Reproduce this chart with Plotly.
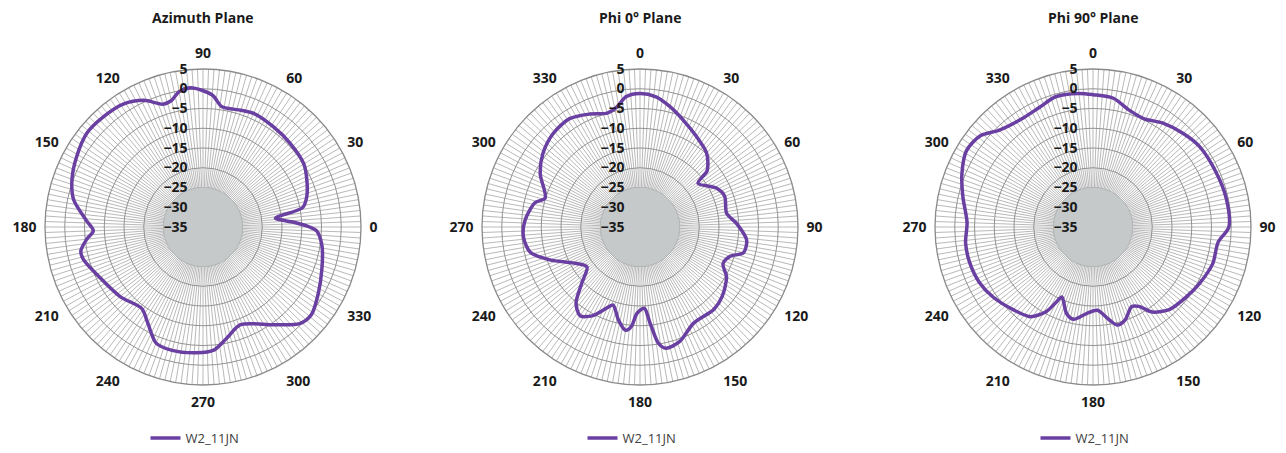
import plotly.graph_objects as go

# Azimuth plane (0 at right, counterclockwise)
az_theta = [0, 3, 7, 11, 16, 24, 32, 44, 55, 66, 72, 81, 86, 95, 100, 104, 108, 115,
            123, 132, 141, 151, 160, 168, 177, 182, 186, 191, 195, 206, 220, 233, 240,
            248, 256, 267, 275, 282, 291, 306, 315, 321, 330, 340, 351, 358, 360]
az_gain = [-8.0, -12.0, -16.5, -9.3, -7.7, -6.2, -4.9, -4.4, -4.0, -3.5, -3.9, -4.2, -1.5,
           0.4, -0.2, -2.0, -2.3, 0.4, 2.1, 2.6, 2.8, 1.6, 0.3, -1.5, -5.5, -7.2, -5.4,
           -3.5, -3.6, -5.9, -7.6, -9.2, -7.0, -3.3, -2.8, -3.1, -3.7, -6.2, -8.5, -4.4,
           -0.4, 0.3, -1.3, -3.0, -4.5, -6.2, -8.0]

# Phi 0 plane (0 at top, clockwise)
p0_theta = [0, 7, 14, 22, 32, 42, 50, 53, 63, 70, 81, 88, 97, 104, 108, 114, 120, 130,
            138, 151, 161, 168, 171, 174, 177, 182, 185, 188, 193, 199, 202, 208, 214,
            220, 226, 233, 240, 250, 257, 265, 273, 283, 287, 298, 307, 317, 327, 336,
            344, 349, 354, 360]
p0_gain = [-1.2, -1.8, -3.6, -5.8, -8.0, -9.8, -12.8, -16.6, -13.3, -12.2, -12.8, -10.5,
           -7.8, -8.0, -11.0, -12.0, -9.7, -7.8, -7.0, -7.1, -4.3, -3.6, -5.2, -10.5,
           -14.4, -13.1, -9.7, -8.6, -10.8, -14.1, -13.0, -9.6, -7.9, -9.8, -14.5, -18.2,
           -16.5, -10.7, -6.5, -5.4, -5.8, -7.7, -9.9, -6.4, -4.2, -2.7, -2.3, -3.7, -5.0,
           -4.1, -1.8, -1.2]

# Phi 90 plane (0 at top, clockwise)
p90_theta = [0, 9, 17, 25, 34, 44, 53, 66, 78, 90, 97, 107, 118, 127, 137, 145, 150, 154,
             161, 166, 170, 177, 184, 192, 197, 204, 206, 209, 215, 224, 235, 244, 254,
             263, 272, 283, 292, 301, 309, 316, 326, 336, 344, 354, 360]
p90_gain = [-1.5, -2.0, -4.0, -4.7, -3.3, -2.1, -1.2, -0.9, -0.5, -0.6, -3.1, -3.3, -4.5,
            -5.5, -6.5, -8.7, -11.8, -12.6, -10.1, -9.4, -11.1, -13.9, -13.1, -11.1,
            -12.1, -15.6, -13.9, -10.5, -7.3, -5.9, -4.1, -3.0, -2.5, -2.5, -3.1, -1.2,
            0.8, 2.4, 1.7, -0.9, -2.2, -1.8, -0.7, -1.0, -1.5]

titles = ["Azimuth Plane", "Phi 0\u00b0 Plane", "Phi 90\u00b0 Plane"]
series_name = "W2_11JN"
r_ticks = [-35, -30, -25, -20, -15, -10, -5, 0, 5]
r_range = [-35, 5]
core_level = -25   # grey hub in the middle of each chart
spoke_vals = list(range(0, 360, 2))
spoke_text = [str(v) if v % 30 == 0 else "" for v in spoke_vals]

line_color = "#6a3fa2"
font_family = "Open Sans"

fig = go.Figure()

data = [(az_theta, az_gain), (p0_theta, p0_gain), (p90_theta, p90_gain)]
for i, (th, g) in enumerate(data):
    sub = "polar" if i == 0 else f"polar{i + 1}"
    leg = "legend" if i == 0 else f"legend{i + 1}"
    # grey hub
    fig.add_trace(go.Scatterpolar(
        r=[core_level] * len(spoke_vals), theta=spoke_vals, mode="lines",
        fill="toself", fillcolor="#c6c9c9", line=dict(width=0.8, color="#b8bcbc"),
        hoverinfo="skip", showlegend=False, subplot=sub
    ))
    fig.add_trace(go.Scatterpolar(
        r=g, theta=th, mode="lines", name=series_name,
        line=dict(color=line_color, width=3.5, shape="spline", smoothing=0.8),
        subplot=sub, legend=leg
    ))

# polar domains (pixel centres 203 / 640 / 1093, radius 158)
W, H = 1286, 453
centres = [203, 640, 1093]
rad = 158
cy = 226

layout = dict(
    width=W, height=H,
    margin=dict(l=0, r=0, t=0, b=0),
    paper_bgcolor="white",
    font=dict(family=font_family, color="black"),
    showlegend=True,
)

for i, cx in enumerate(centres):
    key = "polar" if i == 0 else f"polar{i + 1}"
    if i == 0:
        rotation, direction = 0, "counterclockwise"
    else:
        rotation, direction = 90, "clockwise"
    layout[key] = dict(
        domain=dict(x=[(cx - rad) / W, (cx + rad) / W],
                    y=[(cy - rad) / H, (cy + rad) / H]),
        bgcolor="white",
        angularaxis=dict(
            rotation=rotation, direction=direction,
            tickmode="array", tickvals=spoke_vals, ticktext=spoke_text,
            ticks="outside", ticklen=5, tickcolor="rgba(0,0,0,0)",
            showgrid=True, gridcolor="#b9b9b9", gridwidth=1,
            linecolor="#8a8a8a", linewidth=1.3,
            tickfont=dict(size=14, family=font_family, color="#1a1a1a", weight="bold"),
        ),
        radialaxis=dict(
            range=r_range, tickmode="array", tickvals=r_ticks,
            angle=90, tickangle=90, side="counterclockwise",
            showline=False, ticks="outside", ticklen=10, tickcolor="rgba(0,0,0,0)",
            showgrid=True, gridcolor="#939393", gridwidth=1.2,
            tickfont=dict(size=14, family=font_family, color="#1a1a1a", weight="bold"),
            layer="above traces",
        ),
    )
    leg = "legend" if i == 0 else f"legend{i + 1}"
    layout[leg] = dict(
        x=(cx - 8) / W, y=15 / H, xanchor="center", yanchor="middle",
        orientation="h", bgcolor="rgba(0,0,0,0)",
        font=dict(size=13, family=font_family, color="#404040"),
    )

fig.update_layout(**layout)

for i, cx in enumerate(centres):
    fig.add_annotation(
        x=cx / W, y=(H - 18) / H, xref="paper", yref="paper",
        xanchor="center", yanchor="middle",
        text="<b>" + titles[i] + "</b>", showarrow=False,
        font=dict(size=14, family=font_family, color="#1a1a1a"),
    )

fig.write_html("out.html",
               config={"displayModeBar": False},
               post_script="document.body.style.margin='0px';"
                           "document.body.style.overflow='hidden';")
